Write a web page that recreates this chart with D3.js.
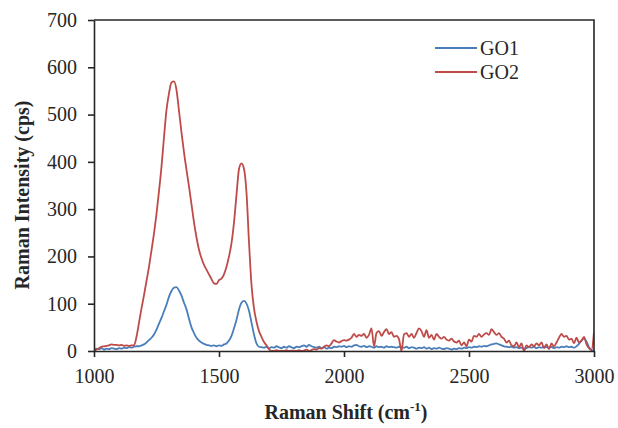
<!DOCTYPE html>
<meta charset="utf-8">
<script src="https://d3js.org/d3.v7.min.js"></script>
<style>
  body { margin: 0; background: #fff; }
  text { font-family: "Liberation Serif", "Times New Roman", serif; fill: #262626; }
</style>
<div id="chart"></div>
<script>
// Raman shift grid (cm-1), one value every 10 cm-1
var shift = d3.range(1000, 3001, 10);

var go1 = [
  2,5,4,6,3,5,4,6,5,4,
  6,5,7,6,8,7,9,10,10,12,
  14,18,23,28,35,45,58,70,84,98,
  115,127,134,135,128,117,102,88,68,50,
  38,28,22,18,15,13,12,11,12,10,
  12,11,14,16,22,32,48,66,88,102,
  106,100,85,60,35,16,9,8,7,9,
  6,8,7,10,8,6,9,7,10,8,
  6,9,8,10,12,9,13,10,8,7,
  9,6,8,5,7,6,9,8,10,9,
  11,8,10,9,12,13,10,9,11,8,
  10,9,7,10,8,9,7,10,8,9,
  8,7,9,8,7,9,6,8,7,5,
  7,6,8,5,7,4,6,5,7,5,
  4,6,5,3,5,4,6,5,7,6,
  8,7,9,8,10,9,11,10,12,14,
  15,16,14,12,10,9,8,9,7,8,
  6,7,5,6,8,7,9,6,8,7,
  9,8,7,9,6,8,7,9,8,10,
  8,9,7,10,15,22,26,20,8,2,
  0
];

var go2 = [
  0,3,6,9,10,11,12,14,13,13,
  12,13,11,12,11,12,12,30,60,90,
  118,148,178,213,249,290,338,390,452,510,
  545,568,570,552,508,462,420,383,348,310,
  272,240,214,196,182,172,162,152,143,142,
  150,153,162,178,200,228,272,330,385,397,
  385,335,230,140,90,62,42,30,19,12,
  4,0,0,2,0,1,0,2,0,1,
  1,0,2,0,1,3,0,2,4,3,
  6,5,9,12,10,16,23,20,18,21,
  23,22,24,28,36,30,34,32,36,28,
  34,48,10,38,42,32,40,46,36,40,
  30,32,25,0,35,38,30,36,28,38,
  48,42,30,44,28,34,24,36,30,26,
  30,24,22,26,20,18,22,12,18,10,
  24,20,32,30,36,30,35,38,34,46,
  40,34,38,30,26,18,22,12,10,18,
  8,16,0,12,8,14,10,16,12,18,
  6,14,4,16,10,18,28,36,30,32,
  24,26,16,28,18,22,30,14,6,2,
  40
];

var xTicks = [1000, 1500, 2000, 2500, 3000];
var yTicks = [0, 100, 200, 300, 400, 500, 600, 700];
var seriesNames = ["GO1", "GO2"];
var seriesColors = ["#4a7ebb", "#be4b48"];

var margin = {top: 20, right: 24, bottom: 77, left: 94},
    width = 618 - margin.left - margin.right,
    height = 428 - margin.top - margin.bottom;

var svg = d3.select("#chart")
  .append("svg")
  .attr("width", 618)
  .attr("height", 428);

var g = svg.append("g")
  .attr("transform", "translate(" + margin.left + "," + margin.top + ")");

var x = d3.scaleLinear().domain([1000, 3000]).range([0, width]);
var y = d3.scaleLinear().domain([0, 700]).range([height, 0]);

g.append("clipPath").attr("id", "clip")
  .append("rect").attr("x", 0).attr("y", -2).attr("width", width).attr("height", height + 2);

// lines
var line = d3.line()
  .x(function (d) { return x(d[0]); })
  .y(function (d) { return y(d[1]); })
  .curve(d3.curveMonotoneX);

[go1, go2].forEach(function (vals, i) {
  g.append("path")
    .datum(shift.map(function (s, j) { return [s, vals[j]]; }))
    .attr("clip-path", "url(#clip)")
    .attr("fill", "none")
    .attr("stroke", seriesColors[i])
    .attr("stroke-width", 1.8)
    .attr("stroke-linejoin", "round")
    .attr("d", line);
});

// frame (top & right)
g.append("path")
  .attr("d", "M0,0H" + width + "V" + height)
  .attr("fill", "none")
  .attr("stroke", "#262626")
  .attr("stroke-width", 1.6);

// axes
var xAxis = g.append("g")
  .attr("transform", "translate(0," + height + ")")
  .call(d3.axisBottom(x).tickValues(xTicks).tickFormat(d3.format("d"))
    .tickSize(6).tickPadding(12).tickSizeOuter(0));
var yAxis = g.append("g")
  .call(d3.axisLeft(y).tickValues(yTicks).tickFormat(d3.format("d"))
    .tickSize(6).tickPadding(11).tickSizeOuter(0));

[xAxis, yAxis].forEach(function (ax) {
  ax.attr("font-family", "Liberation Serif").attr("font-size", 20);
  ax.select(".domain").attr("stroke", "#262626").attr("stroke-width", 1.6);
  ax.selectAll(".tick line").attr("stroke", "#262626").attr("stroke-width", 1.6);
  ax.selectAll(".tick text").attr("fill", "#262626");
});

// axis titles
var xt = svg.append("text")
  .attr("x", 346)
  .attr("y", 419)
  .attr("text-anchor", "middle")
  .style("font-size", "20px")
  .style("font-weight", "bold");
xt.append("tspan").text("Raman Shift (cm");
xt.append("tspan").attr("dy", -8).style("font-size", "13px").text("-1");
xt.append("tspan").attr("dy", 8).text(")");

svg.append("text")
  .attr("transform", "translate(29,195) rotate(-90)")
  .attr("text-anchor", "middle")
  .style("font-size", "20px")
  .style("font-weight", "bold")
  .text("Raman Intensity (cps)");

// legend
var legend = svg.append("g").attr("transform", "translate(435,48)");
seriesNames.forEach(function (name, i) {
  var row = legend.append("g").attr("transform", "translate(0," + (i * 24) + ")");
  row.append("line")
    .attr("x1", 0).attr("x2", 42)
    .attr("stroke", seriesColors[i])
    .attr("stroke-width", 1.8);
  row.append("text")
    .attr("x", 45)
    .attr("y", 7)
    .style("font-size", "20px")
    .text(name);
});
</script>
